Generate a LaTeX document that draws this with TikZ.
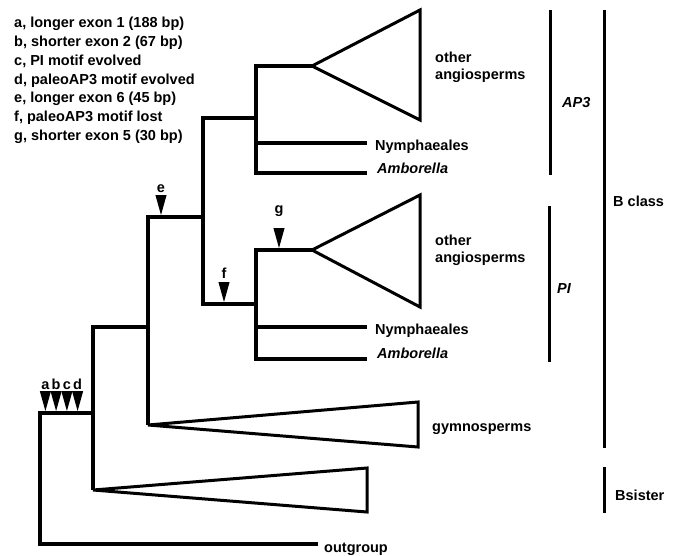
\documentclass[tikz,border=0pt]{standalone}
\usepackage{fontspec}
\setmainfont{Liberation Sans}
\begin{document}
\begin{tikzpicture}[x=1pt,y=-1pt,
  br/.style={line width=3.5pt, line join=miter},
  tri/.style={line width=3pt, line join=miter},
  bar/.style={line width=3pt},
  lbl/.style={font=\bfseries\fontsize{14.5}{17}\selectfont, inner sep=0pt, anchor=base west},
  ilbl/.style={lbl, font=\bfseries\itshape\fontsize{14.5}{17}\selectfont},
  mlbl/.style={lbl, anchor=base},
  downtri/.pic={\fill (0,0) -- (-5.6,-20) -- (5.6,-20) -- cycle;}
]
\useasboundingbox (0,0) rectangle (677,555);

% ---- tree coordinates
\coordinate (r) at (40,413);
\coordinate (n1root) at (93,413);
\coordinate (og) at (318,544);
\coordinate (n2join) at (148,327);
\coordinate (bsapex) at (93,490);
\coordinate (n3join) at (203,217);
\coordinate (gyapex) at (148,425);
\coordinate (ap3join) at (256,118);
\coordinate (fend) at (203,304);
\coordinate (pinode) at (256,304);
\coordinate (ap3apex) at (312,66);
\coordinate (ap3amb) at (256,173);
\coordinate (ap3ambend) at (367,173);
\coordinate (ap3nym) at (256,143);
\coordinate (ap3nymend) at (367,143);
\coordinate (piapex) at (312,250);
\coordinate (piamb) at (256,359);
\coordinate (piambend) at (367,359);
\coordinate (pinym) at (256,327);
\coordinate (pinymend) at (367,327);

% ---- branches
\draw[br] (n1root) -- (r) |- (og);
\draw[br] (n2join) -| (bsapex);
\draw[br] (n3join) -| (gyapex);
\draw[br] (ap3join) -| (fend) -- (pinode);
\draw[br] (ap3apex) -| (ap3amb) -- (ap3ambend);
\draw[br] (ap3nym) -- (ap3nymend);
\draw[br] (piapex) -| (piamb) -- (piambend);
\draw[br] (pinym) -- (pinymend);

% ---- collapsed clades
\draw[tri] (ap3apex) -- (420,10) -- (420,120) -- cycle;
\draw[tri] (piapex) -- (420,195) -- (420,307) -- cycle;
\draw[tri] (gyapex) -- (418,402) -- (418,447) -- cycle;
\draw[tri] (bsapex) -- (367,468) -- (367,512) -- cycle;

% ---- character markers
\pic at (45.4,411) {downtri};
\pic at (56.1,411) {downtri};
\pic at (66.9,411) {downtri};
\pic at (77.6,411) {downtri};
\pic at (161,215) {downtri};
\pic at (224,302) {downtri};
\pic at (279,248) {downtri};
\node[mlbl] (la) at (45.4,389) {a};
\node[mlbl] (lb) at (56.1,389) {b};
\node[mlbl] (lc) at (66.9,389) {c};
\node[mlbl] (ld) at (77.6,389) {d};
\node[mlbl] (le) at (161,192) {e};
\node[mlbl] (lf) at (224,278) {f};
\node[mlbl] (lg) at (279,213) {g};

% ---- legend
\node[lbl] (k1) at (14,27.3) {a, longer exon 1 (188 bp)};
\node[lbl] (k2) at (14,46.2) {b, shorter exon 2 (67 bp)};
\node[lbl] (k3) at (14,65.1) {c, PI motif evolved};
\node[lbl] (k4) at (14,84.0) {d, paleoAP3 motif evolved};
\node[lbl] (k5) at (14,102.9) {e, longer exon 6 (45 bp)};
\node[lbl] (k6) at (14,121.8) {f, paleoAP3 motif lost};
\node[lbl] (k7) at (14,140.7) {g, shorter exon 5 (30 bp)};

% ---- taxon labels
\node[lbl] (t1a) at (435,62) {other};
\node[lbl] (t1b) at (435,79) {angiosperms};
\node[lbl] (t2) at (375,150) {Nymphaeales};
\node[ilbl] (t3) at (377,173) {Amborella};
\node[lbl] (t4a) at (435,245) {other};
\node[lbl] (t4b) at (435,262) {angiosperms};
\node[lbl] (t5) at (375,334) {Nymphaeales};
\node[ilbl] (t6) at (377,358) {Amborella};
\node[lbl] (t7) at (432,431) {gymnosperms};
\node[lbl] (t8) at (324,552) {outgroup};

% ---- group bars
\coordinate (ap3top) at (550,10);
\coordinate (ap3bot) at (550,175);
\coordinate (pitop) at (549,206);
\coordinate (pibot) at (549,362);
\coordinate (bctop) at (604,10);
\coordinate (bcbot) at (604,448);
\coordinate (bstop) at (604,467);
\coordinate (bsbot) at (604,513);
\draw[bar] (ap3top) -- (ap3bot);
\draw[bar] (pitop) -- (pibot);
\draw[bar] (bctop) -- (bcbot);
\draw[bar] (bstop) -- (bsbot);
\node[ilbl] (g1) at (562,107) {AP3};
\node[ilbl] (g2) at (557,293) {PI};
\node[lbl] (g3) at (613,206) {B class};
\node[lbl] (g4) at (615,500) {Bsister};
\end{tikzpicture}
\end{document}
